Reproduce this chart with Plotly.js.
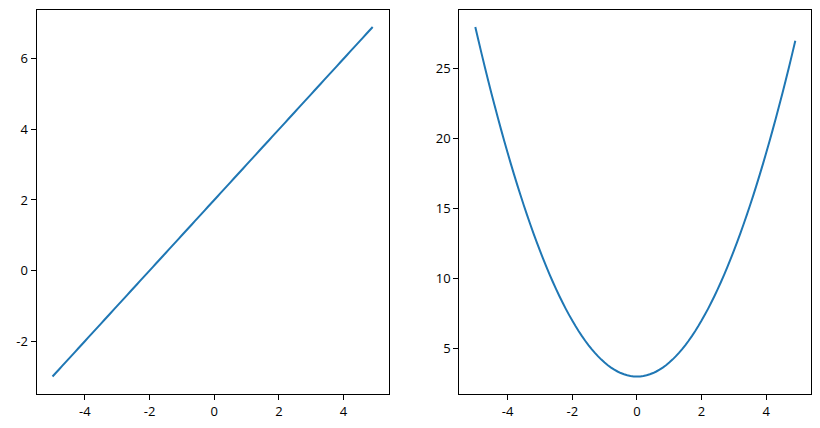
<!DOCTYPE html>
<html>
<head>
<meta charset="utf-8">
<script src="https://cdn.plot.ly/plotly-3.0.1.min.js"></script>
<style>html,body{margin:0;padding:0;background:#fff;}#chart{width:820px;height:428px;}</style>
</head>
<body>
<div id="chart"></div>
<script>
const xValues = [-5.0,-4.9,-4.8,-4.7,-4.6,-4.5,-4.4,-4.3,-4.2,-4.1,-4.0,-3.9,-3.8,-3.7,-3.6,-3.5,-3.4,-3.3,-3.2,-3.1,-3.0,-2.9,-2.8,-2.7,-2.6,-2.5,-2.4,-2.3,-2.2,-2.1,-2.0,-1.9,-1.8,-1.7,-1.6,-1.5,-1.4,-1.3,-1.2,-1.1,-1.0,-0.9,-0.8,-0.7,-0.6,-0.5,-0.4,-0.3,-0.2,-0.1,0.0,0.1,0.2,0.3,0.4,0.5,0.6,0.7,0.8,0.9,1.0,1.1,1.2,1.3,1.4,1.5,1.6,1.7,1.8,1.9,2.0,2.1,2.2,2.3,2.4,2.5,2.6,2.7,2.8,2.9,3.0,3.1,3.2,3.3,3.4,3.5,3.6,3.7,3.8,3.9,4.0,4.1,4.2,4.3,4.4,4.5,4.6,4.7,4.8,4.9];
const lineValues = [-3.0,-2.9,-2.8,-2.7,-2.6,-2.5,-2.4,-2.3,-2.2,-2.1,-2.0,-1.9,-1.8,-1.7,-1.6,-1.5,-1.4,-1.3,-1.2,-1.1,-1.0,-0.9,-0.8,-0.7,-0.6,-0.5,-0.4,-0.3,-0.2,-0.1,0.0,0.1,0.2,0.3,0.4,0.5,0.6,0.7,0.8,0.9,1.0,1.1,1.2,1.3,1.4,1.5,1.6,1.7,1.8,1.9,2.0,2.1,2.2,2.3,2.4,2.5,2.6,2.7,2.8,2.9,3.0,3.1,3.2,3.3,3.4,3.5,3.6,3.7,3.8,3.9,4.0,4.1,4.2,4.3,4.4,4.5,4.6,4.7,4.8,4.9,5.0,5.1,5.2,5.3,5.4,5.5,5.6,5.7,5.8,5.9,6.0,6.1,6.2,6.3,6.4,6.5,6.6,6.7,6.8,6.9];
const parabolaValues = [28,27.01,26.04,25.09,24.16,23.25,22.36,21.49,20.64,19.81,19,18.21,17.44,16.69,15.96,15.25,14.56,13.89,13.24,12.61,12,11.41,10.84,10.29,9.76,9.25,8.76,8.29,7.84,7.41,7,6.61,6.24,5.89,5.56,5.25,4.96,4.69,4.44,4.21,4,3.81,3.64,3.49,3.36,3.25,3.16,3.09,3.04,3.01,3,3.01,3.04,3.09,3.16,3.25,3.36,3.49,3.64,3.81,4,4.21,4.44,4.69,4.96,5.25,5.56,5.89,6.24,6.61,7,7.41,7.84,8.29,8.76,9.25,9.76,10.29,10.84,11.41,12,12.61,13.24,13.89,14.56,15.25,15.96,16.69,17.44,18.21,19,19.81,20.64,21.49,22.36,23.25,24.16,25.09,26.04,27.01];
const xTicks = [-4,-2,0,2,4];
const leftYTicks = [-2,0,2,4,6];
const rightYTicks = [5,10,15,20,25];

const lineStyle = {color:'#1f77b4', width:2, simplify:false};
const traces = [
  {x:xValues, y:lineValues, type:'scatter', mode:'lines', line:lineStyle, xaxis:'x', yaxis:'y', hoverinfo:'skip'},
  {x:xValues, y:parabolaValues, type:'scatter', mode:'lines', line:lineStyle, xaxis:'x2', yaxis:'y2', hoverinfo:'skip'}
];

function pad(arr){const mn=Math.min(...arr), mx=Math.max(...arr), d=(mx-mn)*0.05; return [mn-d, mx+d];}

const tickFont = {family:'Open Sans, Noto Sans, sans-serif', size:13, color:'#000'};
function axis(extra){
  return Object.assign({
    showline:true, mirror:true, linecolor:'#000', linewidth:1,
    showgrid:false, zeroline:false,
    ticks:'outside', ticklen:5, tickwidth:1, tickcolor:'#000',
    tickfont:tickFont, tickmode:'array', automargin:false, fixedrange:true
  }, extra);
}
const label = v => String(v);
const yDomain = [(428-394)/428, (428-9.5)/428];
const layout = {
  width:820, height:428,
  margin:{l:0,r:0,t:0,b:0},
  paper_bgcolor:'#fff', plot_bgcolor:'#fff',
  showlegend:false,
  xaxis: axis({domain:[36.5/820, 388.7/820], range:pad(xValues), tickvals:xTicks, ticktext:xTicks.map(label), anchor:'y'}),
  yaxis: axis({domain:yDomain, range:pad(lineValues), tickvals:leftYTicks, ticktext:leftYTicks.map(label), anchor:'x'}),
  xaxis2: axis({domain:[459.3/820, 811.3/820], range:pad(xValues), tickvals:xTicks, ticktext:xTicks.map(label), anchor:'y2'}),
  yaxis2: axis({domain:yDomain, range:pad(parabolaValues), tickvals:rightYTicks, ticktext:rightYTicks.map(label), anchor:'x2'})
};
Plotly.newPlot('chart', traces, layout, {staticPlot:true, displayModeBar:false});
</script>
</body>
</html>
